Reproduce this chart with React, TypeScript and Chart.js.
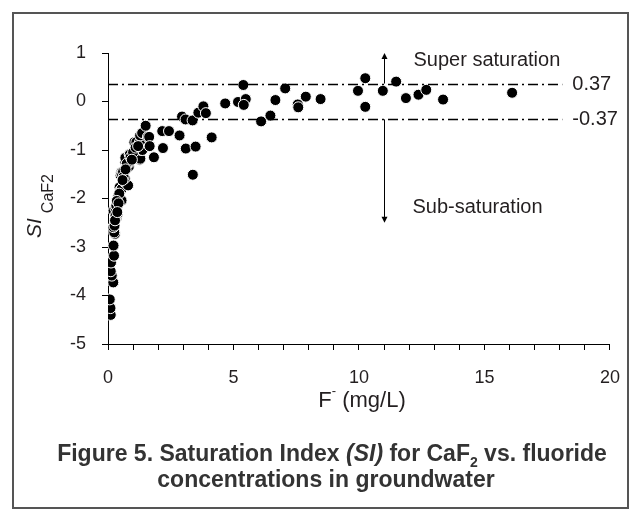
import React, { useEffect, useRef } from 'react';
import { Chart, registerables } from 'chart.js';

Chart.register(...registerables);

// F- concentration (mg/L)
const fluorideValues = [
  0.11, 0.10, 0.07, 0.21, 0.15, 0.11, 0.12, 0.24, 0.22, 0.28, 0.25, 0.21, 0.26, 0.34, 0.38, 0.22, 0.30, 0.33, 0.40, 0.54,
  0.46, 0.50, 0.55, 0.66, 0.80, 0.50, 0.53, 0.54, 0.67, 0.79, 0.83, 0.69, 0.72, 0.69, 0.87, 0.86, 0.93, 0.87, 1.27, 1.29,
  1.32, 1.37, 1.05, 1.13, 1.27, 1.28, 1.36, 1.59, 1.64, 1.66, 1.83, 1.50, 2.16, 2.43, 2.19, 2.85, 3.10, 3.49, 3.38, 4.13,
  2.95, 3.09, 3.37, 3.60, 3.80, 3.90, 4.67, 5.18, 5.39, 5.49, 5.41, 6.10, 6.47, 6.67, 7.06, 7.56, 7.58, 7.88, 8.47, 9.96,
  10.25, 10.25, 10.95, 11.48, 11.87, 12.37, 12.68, 13.35, 16.1,
  0.60, 0.62, 0.45, 0.35, 0.42, 0.30, 0.28, 0.75, 0.90, 1.00, 1.10, 1.20, 0.95, 0.58, 0.70, 0.37,
];
// Saturation index SI CaF2
const siValues = [
  -4.40, -4.26, -4.08, -3.73, -3.59, -3.50, -3.32, -3.18, -2.97, -2.73, -2.70, -2.59, -2.56, -2.39, -2.32, -2.25, -2.20, -2.15, -1.97, -2.04,
  -1.77, -1.83, -1.80, -1.66, -1.73, -1.52, -1.46, -1.49, -1.58, -1.32, -1.34, -1.25, -1.18, -1.16, -1.25, -1.08, -1.08, -1.09, -1.20, -1.18,
  -1.00, -1.00, -0.84, -0.84, -0.84, -0.70, -0.65, -0.73, -0.73, -0.92, -1.15, -0.50, -0.61, -0.61, -0.96, -0.70, -0.97, -0.93, -1.51, -0.74,
  -0.31, -0.37, -0.39, -0.23, -0.10, -0.24, -0.04, -0.01, 0.34, 0.05, -0.07, -0.41, -0.29, 0.03, 0.27, -0.06, -0.12, 0.10, 0.05, 0.22,
  0.48, -0.11, 0.22, 0.41, 0.07, 0.14, 0.24, 0.04, 0.18,
  -1.45, -1.55, -1.90, -2.05, -2.10, -2.35, -2.45, -1.28, -1.15, -1.05, -0.95, -0.92, -1.20, -1.62, -1.40, -2.28,
];

const thresholdValues = [0.37, -0.37];
const thresholdLabels = ['0.37', '-0.37'];
const xTickLabelValues = [0, 5, 10, 15, 20];
const yTickLabelValues = [1, 0, -1, -2, -3, -4, -5];
const thresholdLineEnd = 18.1;
const arrowX = 11;
const arrowTop = 1.0;
const arrowBottom = -2.5;

const FONT = '"Liberation Sans", Arial, sans-serif';
const TEXT = '#231f20';

const annotPlugin = {
  id: 'annot',
  afterDraw(chart: any) {
    const ctx = chart.ctx;
    const xs = chart.scales.x;
    const ys = chart.scales.y;
    const left = chart.chartArea.left;
    ctx.save();

    // outer frame
    ctx.strokeStyle = '#555';
    ctx.lineWidth = 2;
    ctx.strokeRect(13, 13, 615, 495);

    // threshold lines
    ctx.strokeStyle = '#000';
    ctx.lineWidth = 1.3;
    ctx.setLineDash([10, 4, 2, 4]);
    const xEnd = xs.getPixelForValue(thresholdLineEnd);
    thresholdValues.forEach((v, i) => {
      const py = Math.round(ys.getPixelForValue(v)) + 0.5;
      ctx.beginPath();
      ctx.moveTo(left, py);
      ctx.lineTo(xEnd, py);
      ctx.stroke();
      ctx.fillStyle = TEXT;
      ctx.font = `20px ${FONT}`;
      ctx.textAlign = 'left';
      ctx.textBaseline = 'middle';
      ctx.fillText(thresholdLabels[i], xEnd + 10, py);
    });
    ctx.setLineDash([]);

    // arrows
    const ax = Math.round(xs.getPixelForValue(arrowX)) + 0.5;
    const yTopLine = ys.getPixelForValue(thresholdValues[0]);
    const yBotLine = ys.getPixelForValue(thresholdValues[1]);
    const yTip = ys.getPixelForValue(arrowTop);
    const yTip2 = ys.getPixelForValue(arrowBottom);
    ctx.lineWidth = 1;
    ctx.strokeStyle = '#000';
    ctx.beginPath();
    ctx.moveTo(ax, yTopLine);
    ctx.lineTo(ax, yTip + 2);
    ctx.moveTo(ax, yBotLine);
    ctx.lineTo(ax, yTip2 - 2);
    ctx.stroke();
    ctx.fillStyle = '#000';
    ctx.beginPath();
    ctx.moveTo(ax, yTip);
    ctx.lineTo(ax - 3, yTip + 6);
    ctx.lineTo(ax + 3, yTip + 6);
    ctx.closePath();
    ctx.fill();
    ctx.beginPath();
    ctx.moveTo(ax, yTip2);
    ctx.lineTo(ax - 3, yTip2 - 6);
    ctx.lineTo(ax + 3, yTip2 - 6);
    ctx.closePath();
    ctx.fill();

    ctx.fillStyle = TEXT;
    ctx.font = `20px ${FONT}`;
    ctx.textAlign = 'left';
    ctx.textBaseline = 'middle';
    ctx.fillText('Super saturation', ax + 29, ys.getPixelForValue(0.85));
    ctx.fillText('Sub-saturation', ax + 28, ys.getPixelForValue(-2.19));

    // x-axis title: F- (mg/L)
    ctx.textBaseline = 'alphabetic';
    const xt1 = 'F';
    const xt2 = '-';
    const xt3 = ' (mg/L)';
    ctx.font = `22px ${FONT}`;
    const w1 = ctx.measureText(xt1).width;
    const w3 = ctx.measureText(xt3).width;
    ctx.font = `13px ${FONT}`;
    const w2 = ctx.measureText(xt2).width;
    const totalX = w1 + w2 + w3;
    let cx = 362 - totalX / 2;
    const by = 407;
    ctx.font = `22px ${FONT}`;
    ctx.fillText(xt1, cx, by);
    cx += w1;
    ctx.font = `13px ${FONT}`;
    ctx.fillText(xt2, cx, by - 12);
    cx += w2;
    ctx.font = `22px ${FONT}`;
    ctx.fillText(xt3, cx, by);

    // y-axis title: SI CaF2
    ctx.save();
    ctx.translate(41, 238);
    ctx.rotate(-Math.PI / 2);
    ctx.font = `italic 21px ${FONT}`;
    ctx.fillText('SI', 0, 0);
    const wsi = ctx.measureText('SI').width + 5;
    ctx.font = `16px ${FONT}`;
    ctx.fillText('CaF2', wsi, 12);
    ctx.restore();

    // caption
    ctx.fillStyle = '#333';
    const segs1: [string, string, number][] = [
      ['Figure 5. Saturation Index ', `bold 23px ${FONT}`, 0],
      ['(SI)', `italic bold 23px ${FONT}`, 0],
      [' for CaF', `bold 23px ${FONT}`, 0],
      ['2', `bold 14px ${FONT}`, 6],
      [' vs. fluoride', `bold 23px ${FONT}`, 0],
    ];
    let tw = 0;
    segs1.forEach(([t, f]) => {
      ctx.font = f;
      tw += ctx.measureText(t).width;
    });
    let sx = 332 - tw / 2;
    segs1.forEach(([t, f, dy]) => {
      ctx.font = f;
      ctx.fillText(t, sx, 461 + dy);
      sx += ctx.measureText(t).width;
    });
    ctx.font = `bold 23px ${FONT}`;
    ctx.textAlign = 'center';
    ctx.fillText('concentrations in groundwater', 326, 487);

    ctx.restore();
  },
};

export default function App() {
  const ref = useRef<HTMLCanvasElement>(null);
  useEffect(() => {
    if (!ref.current) return;
    const points = fluorideValues.map((x, i) => ({ x, y: siValues[i] }));
    const chart = new Chart(ref.current, {
      type: 'scatter',
      data: {
        datasets: [
          {
            data: points,
            backgroundColor: '#000',
            borderColor: '#fff',
            borderWidth: 1,
            pointRadius: 5.5,
            pointHoverRadius: 5.5,
          },
        ],
      },
      options: {
        animation: false,
        responsive: false,
        devicePixelRatio: 1,
        layout: { padding: { left: 0, right: 24, top: 53, bottom: 0 } },
        plugins: { legend: { display: false }, tooltip: { enabled: false }, title: { display: false } },
        scales: {
          x: {
            type: 'linear',
            min: 0,
            max: 20,
            afterFit: (s: any) => {
              s.height = 171;
            },
            border: { display: true, color: '#000', width: 1 },
            grid: { display: true, drawOnChartArea: false, drawTicks: true, tickLength: 6, color: '#000' },
            ticks: {
              stepSize: 1,
              autoSkip: false,
              maxRotation: 0,
              padding: 17,
              color: TEXT,
              font: { family: FONT, size: 18 },
              callback: (v: any) => (xTickLabelValues.includes(Number(v)) ? String(v) : ''),
            },
          },
          y: {
            type: 'linear',
            min: -5,
            max: 1,
            afterFit: (s: any) => {
              s.width = 108;
            },
            border: { display: true, color: '#000', width: 1 },
            grid: { display: true, drawOnChartArea: false, drawTicks: true, tickLength: 6, color: '#000' },
            ticks: {
              stepSize: 1,
              padding: 16,
              color: TEXT,
              font: { family: FONT, size: 18 },
              callback: (v: any) => (yTickLabelValues.includes(Number(v)) ? String(v) : ''),
            },
          },
        },
      },
      plugins: [annotPlugin],
    });
    return () => chart.destroy();
  }, []);
  return (
    <div style={{ position: 'absolute', left: 0, top: 0, width: 637, height: 515, background: '#fff' }}>
      <canvas ref={ref} width={637} height={515} />
    </div>
  );
}
